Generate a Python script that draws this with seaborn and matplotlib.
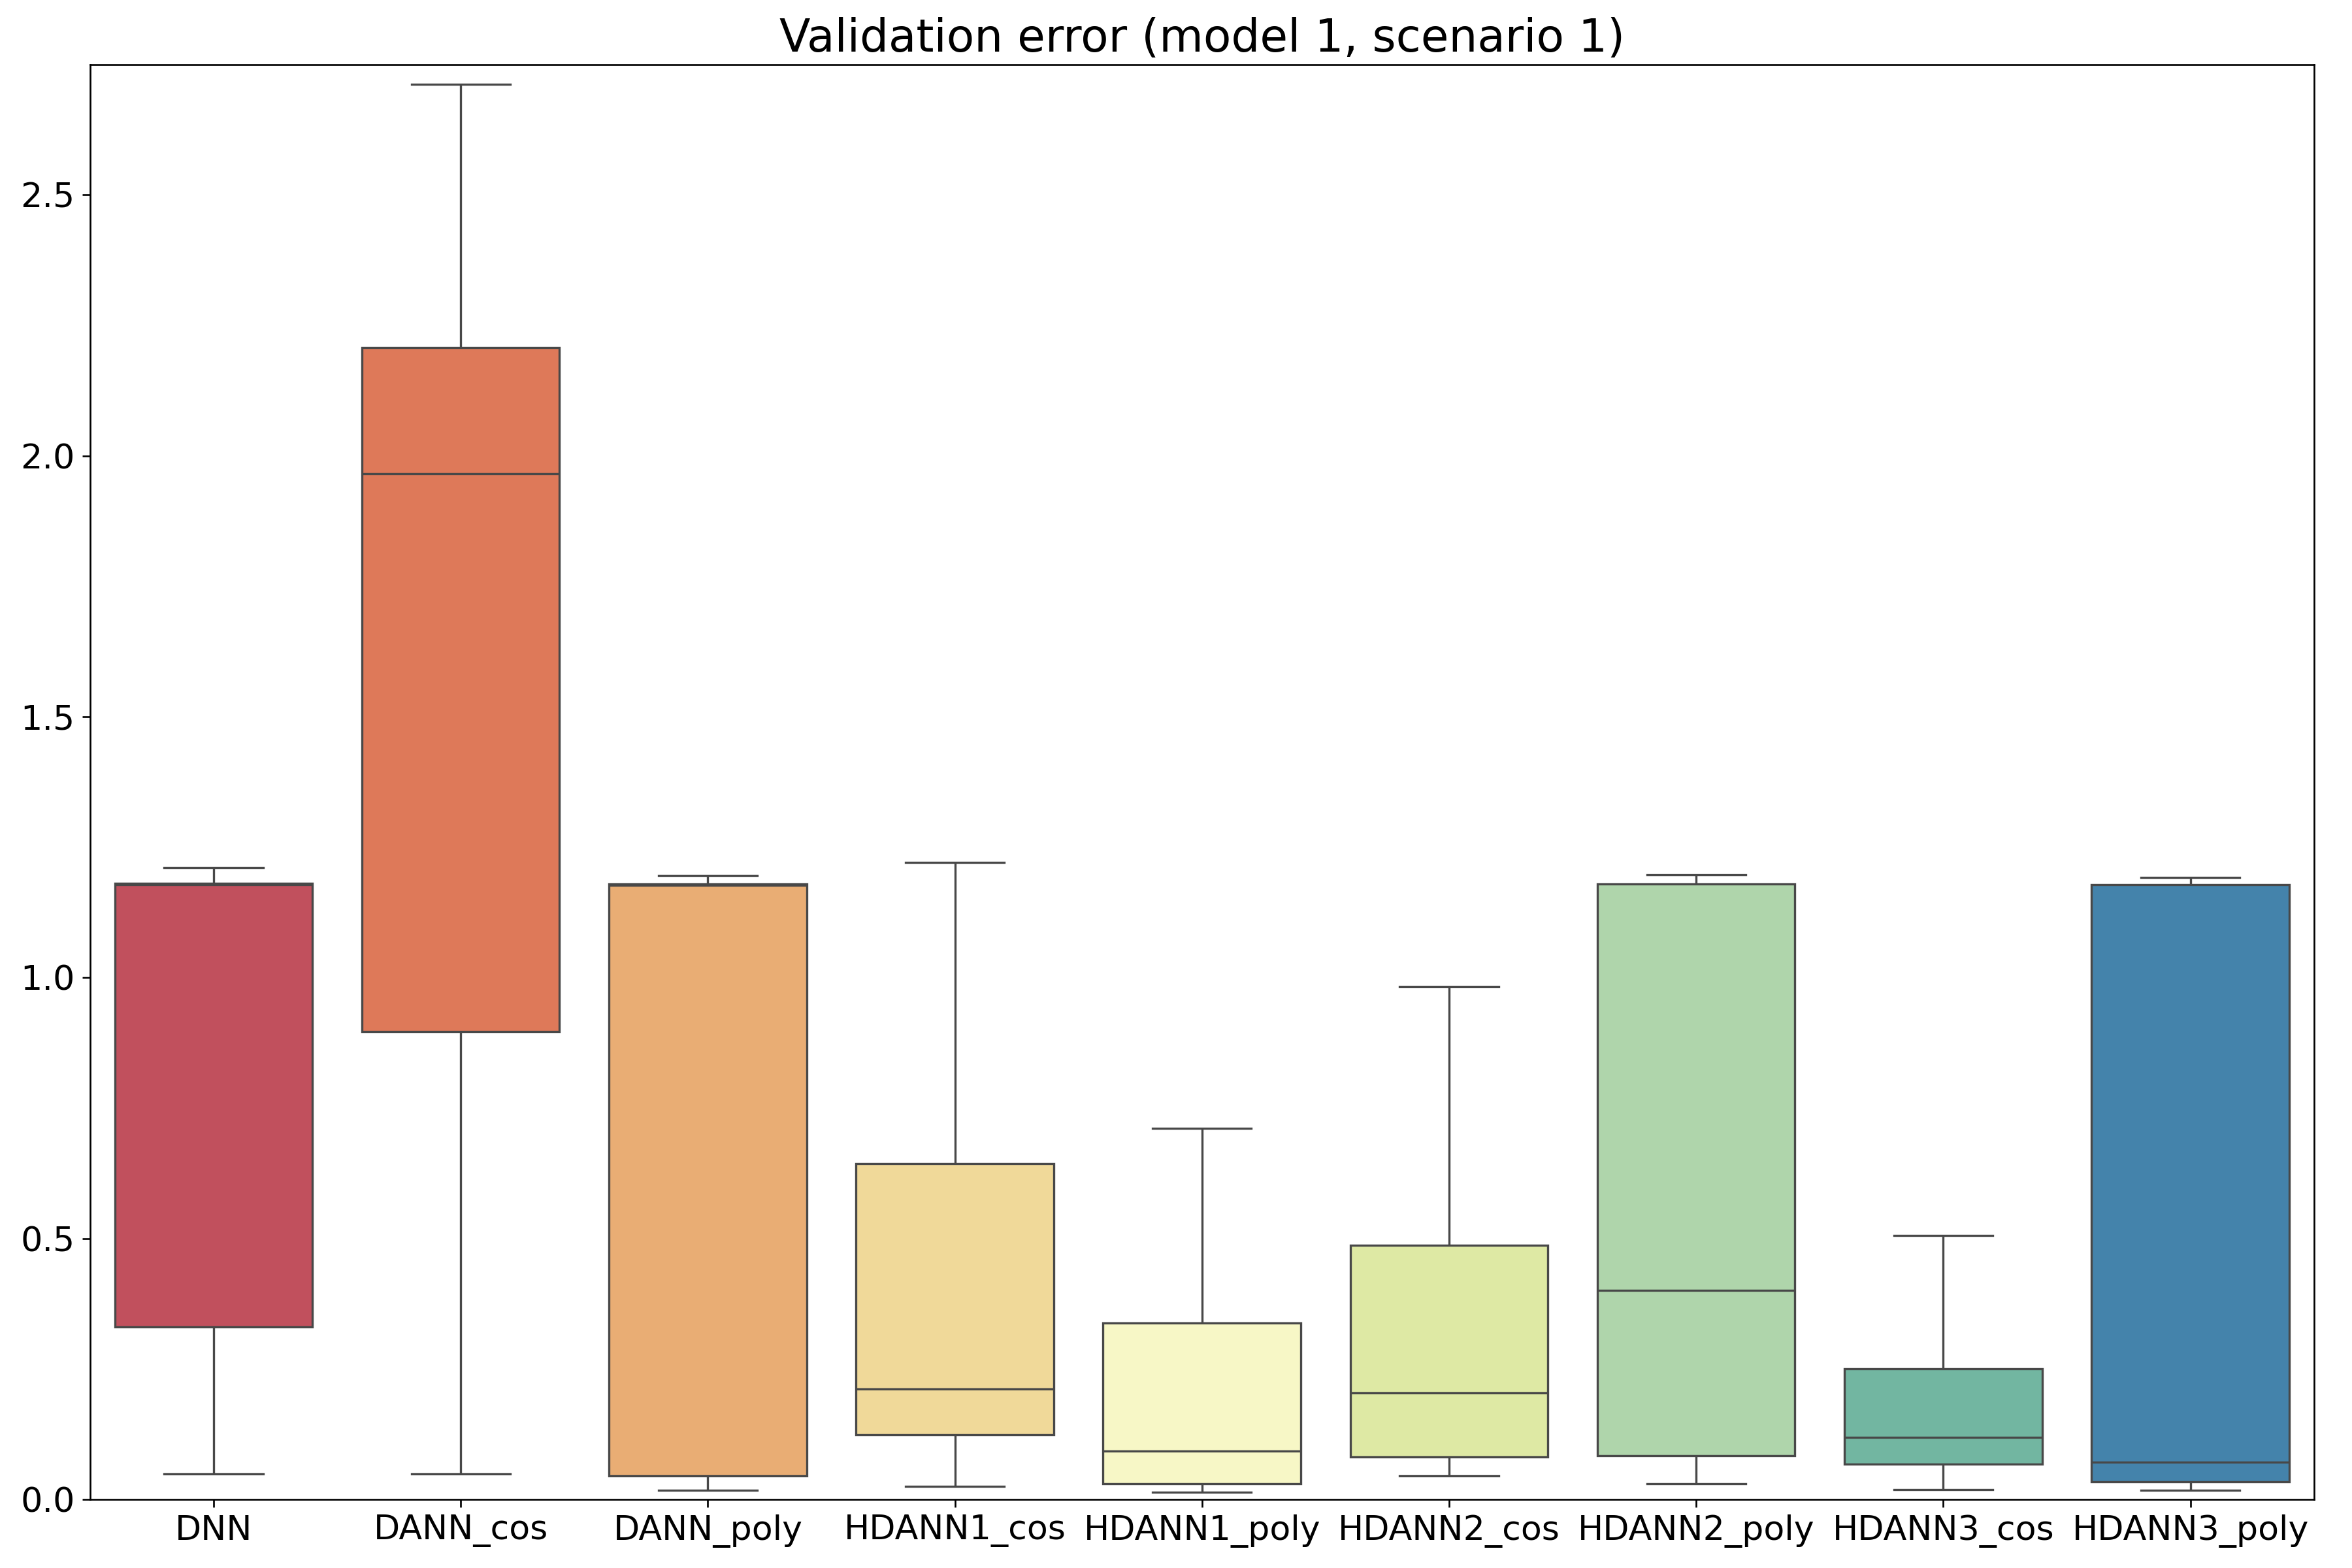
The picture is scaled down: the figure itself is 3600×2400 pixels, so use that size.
import pandas as pd
import matplotlib
matplotlib.use("Agg")
import matplotlib.pyplot as plt
import seaborn as sns

# validation error per run (5 runs each)
models = ["DNN", "DANN_cos", "DANN_poly", "HDANN1_cos", "HDANN1_poly",
          "HDANN2_cos", "HDANN2_poly", "HDANN3_cos", "HDANN3_poly"]

dnn = [0.049, 0.330, 1.178, 1.180, 1.211]
dann_cos = [0.049, 0.896, 1.966, 2.207, 2.712]
dann_poly = [0.017, 0.045, 1.177, 1.179, 1.196]
hdann1_cos = [0.025, 0.124, 0.212, 0.643, 1.221]
hdann1_poly = [0.014, 0.030, 0.093, 0.338, 0.711]
hdann2_cos = [0.045, 0.081, 0.204, 0.487, 0.983]
hdann2_poly = [0.030, 0.084, 0.401, 1.179, 1.197]
hdann3_cos = [0.019, 0.067, 0.119, 0.250, 0.506]
hdann3_poly = [0.017, 0.034, 0.071, 1.178, 1.192]

runs = [dnn, dann_cos, dann_poly, hdann1_cos, hdann1_poly,
        hdann2_cos, hdann2_poly, hdann3_cos, hdann3_poly]

# long format for seaborn
rows = []
for name, vals in zip(models, runs):
    for v in vals:
        rows.append({"model": name, "error": v})
df = pd.DataFrame(rows)

# -----------------------------
# Boxplot of validation error
# -----------------------------
fig, ax = plt.subplots(figsize=(15, 10))
sns.boxplot(data=df, x="model", y="error", hue="model", order=models,
            hue_order=models, palette="Spectral", legend=False, ax=ax)

ax.set_title("Validation error (model 1, scenario 1)", fontsize=20.8)
ax.set_xlabel("")
ax.set_ylabel("")
ax.set_ylim(0, 2.75)
ax.tick_params(axis="both", labelsize=15.7)

fig.subplots_adjust(left=0.0383, right=0.9838, bottom=0.0438, top=0.9589)
fig.savefig("out.png", dpi=240)
